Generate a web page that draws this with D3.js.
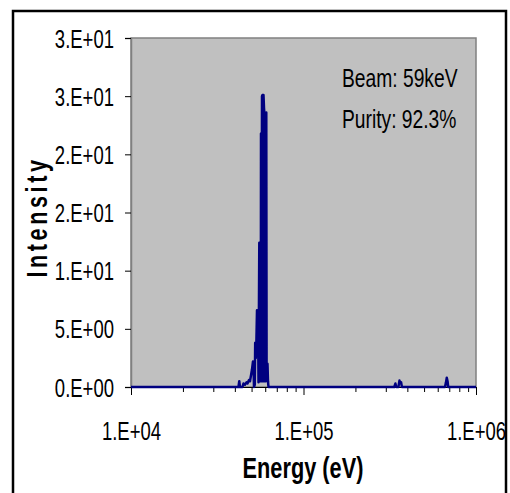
<!DOCTYPE html>
<html>
<head>
<meta charset="utf-8">
<script src="https://cdn.jsdelivr.net/npm/d3@7"></script>
<style>
  html, body { margin: 0; padding: 0; background: #ffffff; }
  svg { display: block; }
  text { font-family: "Liberation Sans", Arial, sans-serif; fill: #000; }
</style>
</head>
<body>
<svg id="chart" width="510" height="493"></svg>
<script>
// Spectrum samples: energy (eV) and intensity
const energy = [
  10000, 20000, 30000, 40000, 41970, 42424, 42824, 44281, 44877, 45786,
  46713, 47342, 48302, 48952, 49611, 50279, 50956, 51297, 51642, 52197,
  52477, 52899, 53325, 53755, 54187, 54479, 54844, 55432, 55804, 56177,
  56554, 56702, 57082, 57464, 57848, 58234, 58624, 59016, 59252, 59650,
  60047, 60450, 60853, 61098, 61835, 62248, 62665,
  80000, 150000, 250000, 336000, 341000, 345000, 355000, 360000, 364000, 368000,
  372000, 500000, 661000, 670000, 677000, 684000, 690000, 850000, 1000000
];
const intensity = [
  0, 0, 0, 0, 0, 0.5, 0, 0, 0.3, 0.2,
  0.4, 0.3, 0.6, 0.5, 1.0, 1.5, 2.2, 1.8, 0, 0.2,
  3.8, 2.5, 3.9, 6.6, 4.8, 6.6, 0.4, 12.4, 0.5, 12.4,
  0.5, 21.8, 0.5, 25.0, 25.1, 0.5, 25.1, 24.0, 23.6, 0.5,
  23.6, 0.5, 23.6, 2.0, 2.0, 0.5, 0,
  0, 0, 0, 0, 0.3, 0, 0, 0.55, 0.35, 0.4,
  0, 0, 0, 0.4, 0.8, 0.5, 0, 0, 0
];

// Axis ticks and their labels
const yTicks = [0, 5, 10, 15, 20, 25, 30];
const yTickLabels = ["0.E+00", "5.E+00", "1.E+01", "2.E+01", "2.E+01", "3.E+01", "3.E+01"];
const xMajorTicks = [1e4, 1e5, 1e6];
const xTickLabels = ["1.E+04", "1.E+05", "1.E+06"];
const xMinorTicks = [2e4, 3e4, 4e4, 5e4, 6e4, 7e4, 8e4, 9e4, 2e5, 3e5, 4e5, 5e5, 6e5, 7e5, 8e5, 9e5];

const annotations = ["Beam: 59keV", "Purity: 92.3%"];
const xTitle = "Energy (eV)";
const yTitle = "Intensity";

const svg = d3.select("#chart");
const plot = { left: 131, right: 476, top: 38, bottom: 387 };

const x = d3.scaleLog().domain([1e4, 1e6]).range([plot.left, plot.right]);
const y = d3.scaleLinear().domain([0, 30]).range([plot.bottom, plot.top]);

// Plot area
svg.append("rect")
  .attr("x", plot.left).attr("y", plot.top)
  .attr("width", plot.right - plot.left).attr("height", plot.bottom - plot.top)
  .attr("fill", "#c0c0c0")
  .attr("stroke", "#808080").attr("stroke-width", 1.5);

// Y axis
const yAxis = svg.append("g")
  .attr("transform", `translate(${plot.left},0)`)
  .call(d3.axisLeft(y).tickValues(yTicks).tickSize(6).tickPadding(0)
    .tickFormat((d, i) => yTickLabels[i]));
yAxis.select(".domain").attr("stroke", "#808080").attr("stroke-width", 1.5);
yAxis.selectAll(".tick line").attr("stroke", "#000");
yAxis.selectAll(".tick text")
  .attr("x", null).attr("dy", null)
  .attr("transform", "translate(-17,9) scale(0.74,1)")
  .attr("text-anchor", "end")
  .style("font-size", "25px");

// X axis: minor ticks
svg.append("g")
  .attr("transform", `translate(0,${plot.bottom})`)
  .call(d3.axisBottom(x).tickValues(xMinorTicks).tickSize(5).tickFormat(""))
  .call(g => g.select(".domain").remove())
  .selectAll(".tick line").attr("stroke", "#000");

// X axis: major ticks and labels
const xAxis = svg.append("g")
  .attr("transform", `translate(0,${plot.bottom})`)
  .call(d3.axisBottom(x).tickValues(xMajorTicks).tickSize(8).tickSizeOuter(0)
    .tickFormat((d, i) => xTickLabels[i]));
xAxis.select(".domain").attr("stroke", "#000").attr("stroke-width", 1.2);
xAxis.selectAll(".tick line").attr("stroke", "#000");
xAxis.selectAll(".tick text")
  .attr("y", null).attr("dy", null)
  .attr("transform", "translate(0,53) scale(0.74,1)")
  .attr("text-anchor", "middle")
  .style("font-size", "25px");

// Spectrum line
const pts = energy.map((e, i) => [e, intensity[i]]);
svg.append("path")
  .datum(pts)
  .attr("fill", "none")
  .attr("stroke", "#000080")
  .attr("stroke-width", 2.5)
  .attr("stroke-linejoin", "round")
  .attr("d", d3.line().x(d => x(d[0])).y(d => y(d[1])));

// Annotations in the plot area
annotations.forEach((t, i) => {
  svg.append("text")
    .attr("transform", `translate(342,${87 + i * 41}) scale(0.77,1)`)
    .style("font-size", "25px")
    .text(t);
});

// Axis titles
svg.append("text")
  .attr("transform", "translate(303,478) scale(0.75,1)")
  .attr("text-anchor", "middle")
  .style("font-size", "29px").style("font-weight", "bold")
  .text(xTitle);

svg.append("text")
  .attr("transform", "translate(47,217) rotate(-90) scale(0.72,1)")
  .attr("text-anchor", "middle")
  .style("font-size", "30px").style("font-weight", "bold")
  .style("letter-spacing", "5px")
  .text(yTitle);

// Outer frame
svg.append("rect")
  .attr("x", 13).attr("y", 11)
  .attr("width", 493).attr("height", 500)
  .attr("fill", "none")
  .attr("stroke", "#000").attr("stroke-width", 2.5);
</script>
</body>
</html>
